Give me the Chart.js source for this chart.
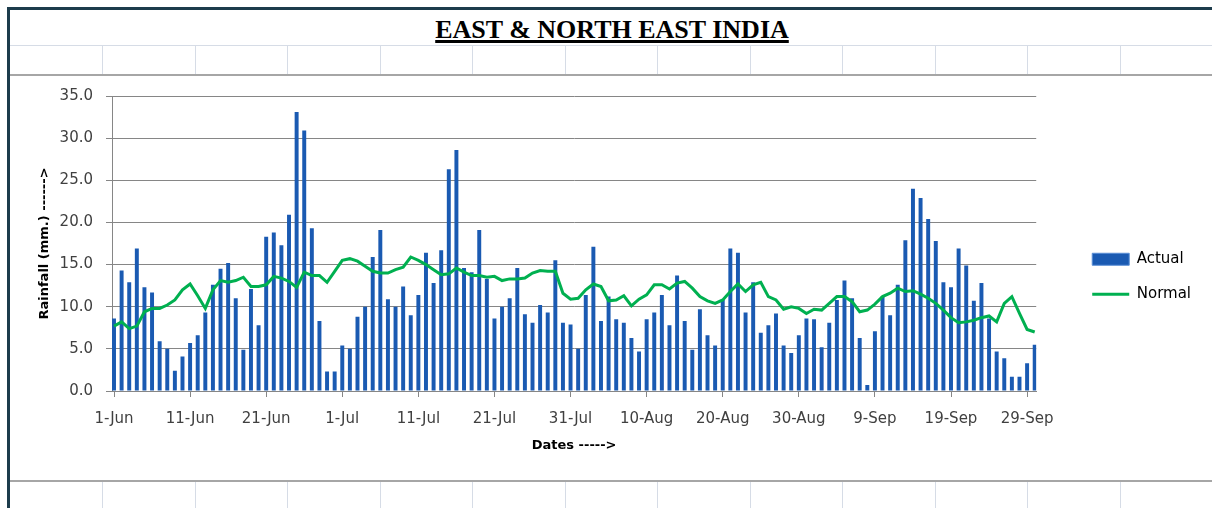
<!DOCTYPE html>
<html>
<head>
<meta charset="utf-8">
<script src="https://cdn.jsdelivr.net/npm/chart.js@4.4.1/dist/chart.umd.min.js"></script>
<style>
  body { margin: 0; width: 1212px; height: 508px; background: #fff; position: relative; overflow: hidden; }
  .frame-top { position: absolute; left: 7px; top: 7px; right: 0; height: 3px; background: #1d3c4c; }
  .frame-left { position: absolute; left: 7px; top: 7px; width: 3px; bottom: 0; background: #1d3c4c; }
  .cellrow { position: absolute; left: 10px; right: 0; height: 1px; background: #d6dce6; }
  .cellcol { position: absolute; width: 1px; background: #d6dce6; }
  .chartbox { position: absolute; left: 10px; right: 0; top: 74px; height: 404px; background: #fff;
              border-top: 2px solid #a6a6a6; border-bottom: 2px solid #a6a6a6; }
  #title { position: absolute; left: 12px; width: 1200px; top: 17px; text-align: center;
           font: bold 26px "Liberation Serif", serif; line-height: 26px; color: #000; }
  #title span { text-decoration: underline; text-decoration-thickness: 3px; text-underline-offset: 2px; }
  canvas { position: absolute; left: 0; top: 0; }
</style>
</head>
<body>
<div class="frame-top"></div>
<div class="frame-left"></div>
<div class="cellrow" style="top:45px"></div>
<div id="cells"></div>
<div class="chartbox"></div>
<div id="title"><span>EAST &amp; NORTH EAST INDIA</span></div>
<canvas id="chart" width="1212" height="508"></canvas>
<script>
const tickLabels = ["1-Jun", "11-Jun", "21-Jun", "1-Jul", "11-Jul", "21-Jul", "31-Jul",
  "10-Aug", "20-Aug", "30-Aug", "9-Sep", "19-Sep", "29-Sep"];
const tickDays = [0, 10, 20, 30, 40, 50, 60, 70, 80, 90, 100, 110, 120];

// daily rainfall, 1 Jun .. 30 Sep (mm)
const actual = [
  8.6, 14.3, 12.9, 16.9, 12.3, 11.7, 5.9, 5.0, 2.4, 4.1,
  5.7, 6.6, 9.3, 12.6, 14.5, 15.2, 11.0, 4.9, 12.1, 7.8,
  18.3, 18.8, 17.3, 20.9, 33.1, 30.9, 19.3, 8.3, 2.3, 2.3,
  5.4, 5.0, 8.8, 10.0, 15.9, 19.1, 10.9, 10.0, 12.4, 9.0,
  11.4, 16.4, 12.8, 16.7, 26.3, 28.6, 14.6, 14.1, 19.1, 13.3,
  8.6, 10.0, 11.0, 14.6, 9.1, 8.1, 10.2, 9.3, 15.5, 8.1,
  7.9, 5.0, 11.4, 17.1, 8.3, 11.2, 8.5, 8.1, 6.3, 4.7,
  8.5, 9.3, 11.4, 7.8, 13.7, 8.3, 4.9, 9.7, 6.6, 5.4,
  10.8, 16.9, 16.4, 9.3, 12.9, 6.9, 7.8, 9.2, 5.4, 4.5,
  6.6, 8.6, 8.5, 5.2, 8.1, 10.8, 13.1, 11.0, 6.3, 0.7,
  7.1, 11.2, 9.0, 12.6, 17.9, 24.0, 22.9, 20.4, 17.8, 12.9,
  12.3, 16.9, 14.9, 10.7, 12.8, 8.6, 4.7, 3.9, 1.7, 1.7,
  3.3, 5.5
];
const normal = [
  7.7, 8.2, 7.4, 7.7, 9.4, 9.8, 9.8, 10.2, 10.8, 12.0,
  12.7, 11.3, 9.8, 12.0, 13.1, 12.9, 13.1, 13.5, 12.4, 12.4,
  12.6, 13.6, 13.4, 13.0, 12.3, 14.1, 13.7, 13.7, 12.9, 14.2,
  15.5, 15.7, 15.4, 14.8, 14.2, 14.0, 14.0, 14.4, 14.7, 15.9,
  15.5, 15.0, 14.4, 13.8, 13.9, 14.6, 14.1, 13.7, 13.7, 13.5,
  13.6, 13.1, 13.3, 13.3, 13.4, 14.0, 14.3, 14.2, 14.2, 11.6,
  10.9, 11.0, 12.0, 12.7, 12.4, 10.7, 10.8, 11.3, 10.1, 10.9,
  11.4, 12.6, 12.6, 12.1, 12.8, 13.0, 12.2, 11.2, 10.7, 10.4,
  10.8, 11.8, 12.7, 11.8, 12.6, 12.9, 11.2, 10.8, 9.7, 10.0,
  9.8, 9.2, 9.7, 9.6, 10.4, 11.2, 11.2, 10.6, 9.4, 9.6,
  10.3, 11.2, 11.6, 12.2, 11.8, 11.9, 11.5, 11.0, 10.4, 9.6,
  8.7, 8.1, 8.2, 8.4, 8.7, 8.9, 8.2, 10.4, 11.2, 9.2,
  7.3, 7.0
];

// spreadsheet cell lines behind the chart
const cells = document.getElementById("cells");
for (let k = 0; k < 12; k++) {
  const x = Math.round(102 + k * 92.5);
  [[46, 29], [482, 26]].forEach(([top, h]) => {
    const d = document.createElement("div");
    d.className = "cellcol";
    d.style.left = x + "px";
    d.style.top = top + "px";
    d.style.height = h + "px";
    cells.appendChild(d);
  });
}

const axisGray = "#868686";
const labelFont = { family: "DejaVu Sans", size: 15 };
const titleFont = { family: "DejaVu Sans", size: 13, weight: "bold" };

const chart = new Chart(document.getElementById("chart"), {
  type: "bar",
  data: {
    datasets: [
      {
        type: "bar",
        label: "Actual",
        data: actual.map((v, i) => ({ x: i, y: v })),
        backgroundColor: "#1a5ab2",
        borderWidth: 0,
        barPercentage: 0.52,
        categoryPercentage: 1,
        order: 1,
      },
      {
        type: "line",
        label: "Normal",
        data: normal.map((v, i) => ({ x: i, y: v })),
        borderColor: "#00b050",
        backgroundColor: "#00b050",
        borderWidth: 3,
        pointRadius: 0,
        tension: 0,
        order: 0,
      },
    ],
  },
  options: {
    responsive: false,
    animation: false,
    layout: { padding: { left: 33, top: 96, bottom: 50.5, right: 11 } },
    plugins: {
      tooltip: { enabled: false },
      legend: {
        position: "right",
        align: "center",
        labels: {
          usePointStyle: true,
          pointStyleWidth: 37,
          boxHeight: 12,
          padding: 20,
          color: "#000",
          font: labelFont,
          sort: (a, b) => a.datasetIndex - b.datasetIndex,
          generateLabels(ch) {
            const items = Chart.defaults.plugins.legend.labels.generateLabels(ch);
            items.forEach((it) => {
              if (it.datasetIndex === 0) {
                it.pointStyle = "rect";
                it.strokeStyle = "#5a8fd6";
                it.lineWidth = 1;
              } else {
                it.pointStyle = "line";
              }
            });
            return items;
          },
        },
      },
    },
    scales: {
      x: {
        type: "linear",
        min: -0.263,
        max: 121.2,
        offset: false,
        afterBuildTicks: (ax) => {
          ax.ticks = tickDays.map((v) => ({ value: v }));
        },
        afterFit: (ax) => {
          ax.height = 66.5;
        },
        grid: { drawOnChartArea: false, drawTicks: true, tickLength: 6, color: axisGray, offset: false },
        border: { display: true, color: axisGray },
        ticks: {
          padding: 13,
          maxRotation: 0,
          autoSkip: false,
          color: "#404040",
          font: labelFont,
          callback: (v) => tickLabels[tickDays.indexOf(v)],
        },
        title: { display: true, text: "Dates ----->", color: "#000", font: titleFont },
      },
      y: {
        min: 0,
        max: 35,
        afterFit: (ax) => {
          ax.width = 79;
        },
        ticks: {
          stepSize: 5,
          padding: 13,
          color: "#404040",
          font: labelFont,
          callback: (v) => v.toFixed(1),
        },
        grid: { color: axisGray, tickLength: 6 },
        border: { color: axisGray },
        title: { display: true, text: "Rainfall (mm.) ------>", color: "#000", font: titleFont },
      },
      gap: {
        type: "linear",
        position: "right",
        grid: { display: false },
        border: { display: false },
        ticks: { display: false },
        afterFit: (ax) => {
          ax.width = 36;
        },
      },
    },
  },
});
</script>
</body>
</html>
